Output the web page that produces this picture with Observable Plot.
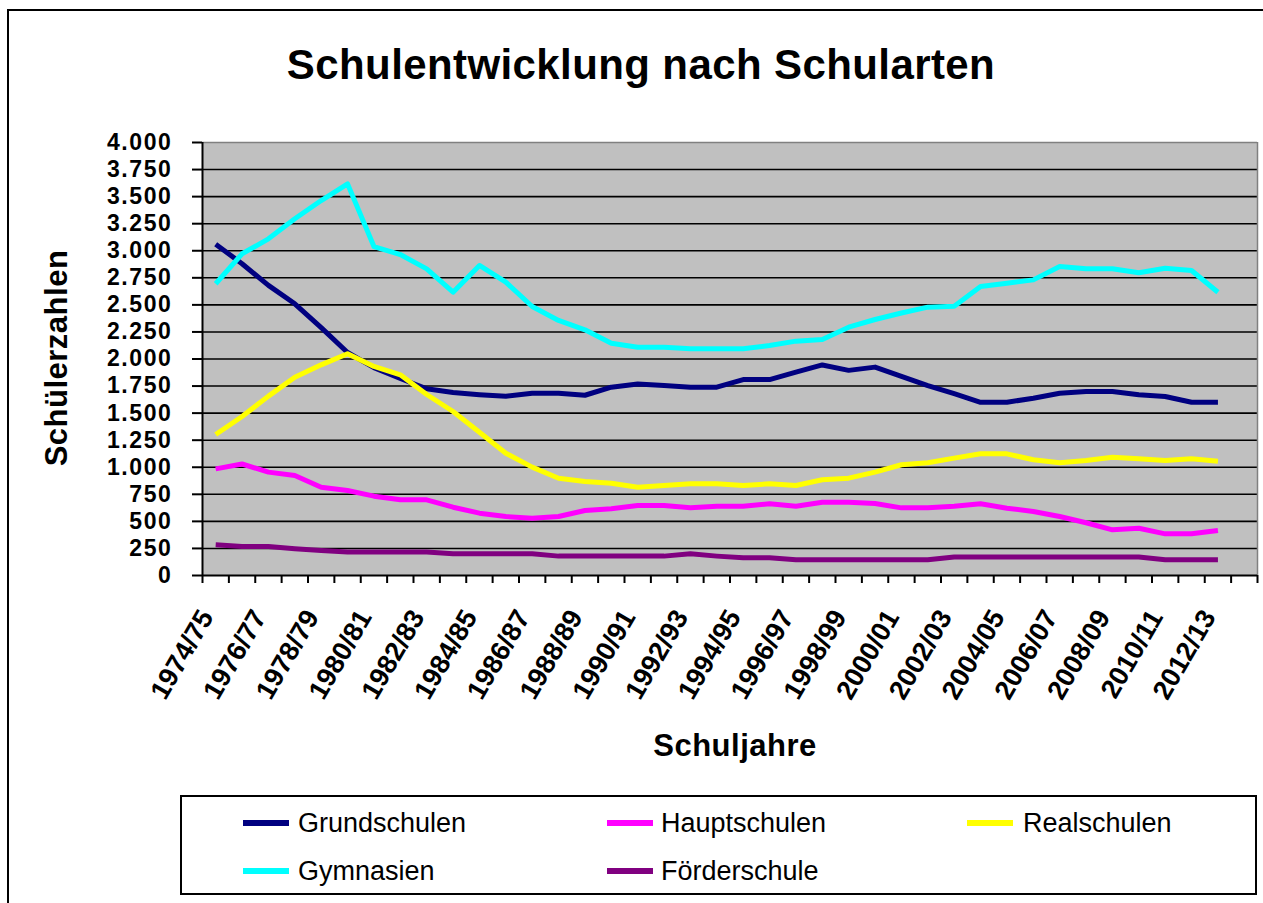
<!DOCTYPE html>
<html>
<head>
<meta charset="utf-8">
<script src="https://cdn.jsdelivr.net/npm/d3@7"></script>
<script src="https://cdn.jsdelivr.net/npm/@observablehq/plot@0.6"></script>
<style>
  body { margin: 0; background: #fff; font-family: "Liberation Sans", Arial, sans-serif; }
  #wrap { position: relative; width: 1263px; height: 903px; overflow: hidden; background: #fff; }
  #frame { position: absolute; left: 7px; top: 9px; width: 1400px; height: 1000px; border: 2px solid #000; box-sizing: border-box; }
  #chart { position: absolute; left: 0; top: 0; }
  #title { position: absolute; left: 0; width: 1282px; top: 44px; text-align: center; font-size: 42px; line-height: 42px; font-weight: bold; letter-spacing: 0.4px; color: #000; white-space: nowrap; }
  #xtitle { position: absolute; left: 0; width: 1470px; top: 730px; text-align: center; font-size: 31px; line-height: 31px; font-weight: bold; letter-spacing: 0.5px; white-space: nowrap; }
  #ytitle { position: absolute; left: -93px; top: 342px; width: 300px; height: 32px; line-height: 32px; text-align: center; font-size: 31px; font-weight: bold; letter-spacing: 0.5px; transform: rotate(-90deg); white-space: nowrap; }
  #legend { position: absolute; left: 180px; top: 795px; width: 1077px; height: 100px; border: 2px solid #000; box-sizing: border-box; }
  .sw { position: absolute; width: 46px; height: 6px; }
  .lt { position: absolute; font-size: 27px; line-height: 30px; white-space: nowrap; }
  g[aria-label="y-axis tick label"] text { letter-spacing: 1.6px; }
</style>
</head>
<body>
<div id="wrap">
  <div id="frame"></div>
  <div id="chart"></div>
  <div id="title">Schulentwicklung nach Schularten</div>
  <div id="xtitle">Schuljahre</div>
  <div id="ytitle">Schülerzahlen</div>
  <div id="legend"></div>
</div>
<script>
// ---- Data ----
const years = ["1974/75","1975/76","1976/77","1977/78","1978/79","1979/80","1980/81","1981/82","1982/83","1983/84",
  "1984/85","1985/86","1986/87","1987/88","1988/89","1989/90","1990/91","1991/92","1992/93","1993/94",
  "1994/95","1995/96","1996/97","1997/98","1998/99","1999/00","2000/01","2001/02","2002/03","2003/04",
  "2004/05","2005/06","2006/07","2007/08","2008/09","2009/10","2010/11","2011/12","2012/13"];

const grundschulen = [3060,2880,2680,2510,2290,2060,1920,1820,1725,1690,1670,1655,1684,1684,1665,1740,1770,1755,1740,1740,
  1810,1810,1878,1945,1895,1925,1840,1755,1680,1600,1600,1638,1684,1700,1700,1669,1654,1600,1600];
const hauptschulen = [985,1030,955,924,816,785,733,699,699,631,576,545,529,545,600,616,647,647,625,640,
  640,662,640,677,677,665,625,625,640,662,622,591,545,487,422,437,385,385,416];
const realschulen = [1303,1469,1657,1832,1946,2048,1931,1854,1672,1515,1324,1130,1001,899,868,853,816,831,847,847,
  831,847,831,884,899,955,1023,1041,1084,1124,1124,1069,1041,1062,1093,1078,1062,1078,1056];
const gymnasien = [2695,2972,3110,3295,3464,3618,3039,2965,2833,2617,2864,2710,2485,2356,2270,2146,2109,2109,2094,2094,
  2094,2125,2165,2180,2294,2365,2425,2479,2488,2670,2700,2731,2854,2833,2833,2796,2839,2818,2617];
const foerderschule = [283,268,268,247,231,216,216,216,216,200,200,200,200,179,179,179,179,179,200,179,
  163,163,145,145,145,145,145,145,170,170,170,170,170,170,170,170,145,145,145];

const seriesNames = ["Grundschulen","Hauptschulen","Realschulen","Gymnasien","Förderschule"];
const seriesColors = ["#000080","#FF00FF","#FFFF00","#00FFFF","#800080"];
const seriesValues = [grundschulen, hauptschulen, realschulen, gymnasien, foerderschule];

const yTicks = [0,250,500,750,1000,1250,1500,1750,2000,2250,2500,2750,3000,3250,3500,3750,4000];
const yTickLabels = ["0","250","500","750","1.000","1.250","1.500","1.750","2.000","2.250","2.500","2.750","3.000","3.250","3.500","3.750","4.000"];

// category slots: 39 school years plus one empty slot at the end (as in the original)
const slotCount = 40;

// ---- Build table ----
const rows = [];
seriesNames.forEach((name, s) => {
  seriesValues[s].forEach((v, i) => rows.push({series: name, year: years[i], pos: i + 0.5, value: v}));
});

const slotEdges = d3.range(slotCount + 1);
const labelPos = years.map((y, i) => i + 0.5).filter((p, i) => i % 2 === 0);
const gridTicks = yTicks.filter(t => t > 0 && t < 4000);

const lineMarks = seriesNames.map((name, s) =>
  Plot.line(rows.filter(r => r.series === name), {
    x: "pos", y: "value", stroke: seriesColors[s], strokeWidth: 5,
    strokeLinejoin: "round", strokeLinecap: "butt"
  })
);

const chart = Plot.plot({
  width: 1263,
  height: 790,
  marginLeft: 202,
  marginRight: 6,
  marginTop: 142,
  marginBottom: 215,
  style: {background: "transparent", fontFamily: "'Liberation Sans', Arial, sans-serif", color: "#000"},
  x: {type: "linear", domain: [0, slotCount], axis: null},
  y: {type: "linear", domain: [0, 4000], axis: null},
  marks: [
    Plot.frame({fill: "#C0C0C0", stroke: null}),
    Plot.ruleY(gridTicks, {stroke: "#000", strokeWidth: 1.6}),
    Plot.ruleY([4000], {stroke: "#808080", strokeWidth: 1.5}),
    Plot.ruleX([slotCount], {stroke: "#808080", strokeWidth: 1.5}),
    ...lineMarks,
    Plot.ruleX([0], {stroke: "#000", strokeWidth: 2}),
    Plot.ruleY([0], {stroke: "#000", strokeWidth: 2}),
    Plot.axisY({
      ticks: yTicks,
      tickFormat: d => yTickLabels[yTicks.indexOf(d)],
      tickSize: 10, tickPadding: 20, strokeWidth: 2,
      fontSize: 23, fontWeight: "bold", label: null
    }),
    Plot.axisX({
      ticks: slotEdges, tickFormat: () => "",
      tickSize: 8, strokeWidth: 2, label: null
    }),
    Plot.axisX({
      ticks: labelPos,
      tickFormat: d => years[Math.round(d - 0.5)],
      tickSize: 0, tickPadding: 37, tickRotate: -60,
      textAnchor: "end", lineAnchor: "middle", dx: -9,
      fontSize: 27, fontWeight: "bold", label: null
    })
  ]
});
document.getElementById("chart").appendChild(chart);

// ---- Legend ----
const legend = document.getElementById("legend");
const legendPos = [
  {sx: 243, tx: 298, cy: 823},
  {sx: 607, tx: 661, cy: 823},
  {sx: 967, tx: 1023, cy: 823},
  {sx: 243, tx: 298, cy: 871},
  {sx: 607, tx: 661, cy: 871}
];
seriesNames.forEach((name, s) => {
  const p = legendPos[s];
  const sw = document.createElement("div");
  sw.className = "sw";
  sw.style.left = (p.sx - 180 - 2) + "px";
  sw.style.top = (p.cy - 3 - 795 - 2) + "px";
  sw.style.background = seriesColors[s];
  legend.appendChild(sw);
  const t = document.createElement("div");
  t.className = "lt";
  t.style.left = (p.tx - 180 - 2) + "px";
  t.style.top = (p.cy - 15 - 795 - 2) + "px";
  t.textContent = name;
  legend.appendChild(t);
});
</script>
</body>
</html>
